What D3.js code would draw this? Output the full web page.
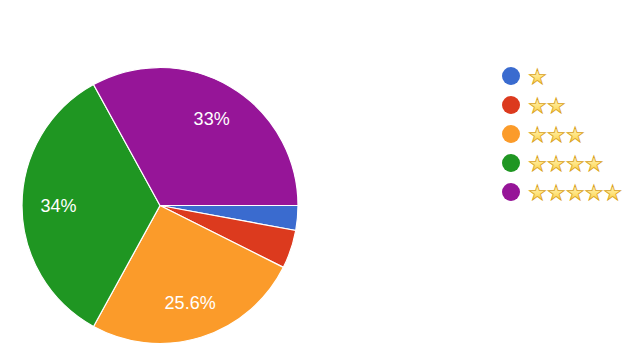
<!DOCTYPE html>
<html>
<head>
<meta charset="utf-8">
<script src="https://cdn.jsdelivr.net/npm/d3@7"></script>
<style>
  body { margin: 0; background: #fff; }
  svg { display: block; }
</style>
</head>
<body>
<div id="chart"></div>
<script>
// ratings and their share (percent)
var ratings = ["★", "★★", "★★★", "★★★★", "★★★★★"];
var shares = [2.9, 4.5, 25.6, 34, 33];
var labels = ["", "", "25.6%", "34%", "33%"];
var colors = ["#3a6bcf", "#dc3a1e", "#fb9b2a", "#1f9622", "#961598"];

var width = 640, height = 356;
var cx = 160, cy = 205.5, radius = 138;

var svg = d3.select("#chart").append("svg")
    .attr("width", width)
    .attr("height", height);

// gold gradient for the stars
var grad = svg.append("defs").append("linearGradient")
    .attr("id", "gold")
    .attr("x1", 0).attr("y1", 0).attr("x2", 0).attr("y2", 1);
grad.append("stop").attr("offset", "0%").attr("stop-color", "#fffbe0");
grad.append("stop").attr("offset", "55%").attr("stop-color", "#ffe37a");
grad.append("stop").attr("offset", "100%").attr("stop-color", "#f2b51c");

var data = ratings.map(function(r, i) {
    return { rating: r, share: shares[i], label: labels[i], color: colors[i] };
});

// pie starts at 3 o'clock, goes clockwise
var pie = d3.pie()
    .sort(null)
    .value(d => d.share)
    .startAngle(Math.PI / 2)
    .endAngle(Math.PI / 2 + 2 * Math.PI);

var arc = d3.arc().innerRadius(0).outerRadius(radius);
var labelArc = d3.arc().innerRadius(radius * 0.735).outerRadius(radius * 0.735);

var g = svg.append("g")
    .attr("transform", "translate(" + cx + "," + cy + ")");

var slices = g.selectAll(".slice")
    .data(pie(data))
    .enter().append("g")
    .attr("class", "slice");

slices.append("path")
    .attr("d", arc)
    .attr("fill", d => d.data.color)
    .attr("stroke", "#fff")
    .attr("stroke-width", 1.2);

slices.append("text")
    .attr("transform", d => "translate(" + labelArc.centroid(d) + ")")
    .attr("dy", "0.36em")
    .attr("text-anchor", "middle")
    .attr("fill", "#fff")
    .attr("font-family", "Arial, 'Liberation Sans', sans-serif")
    .attr("font-size", 18)
    .text(d => d.data.label);

// legend
var legend = svg.append("g")
    .attr("transform", "translate(511,76)");

var rows = legend.selectAll(".row")
    .data(data)
    .enter().append("g")
    .attr("class", "row")
    .attr("transform", (d, i) => "translate(0," + (i * 29) + ")");

rows.append("circle")
    .attr("r", 9)
    .attr("fill", d => d.color);

rows.append("text")
    .attr("x", 17)
    .attr("dy", "0.36em")
    .attr("font-family", "'DejaVu Sans', sans-serif")
    .attr("font-size", 21)
    .attr("fill", "url(#gold)")
    .attr("stroke", "#d9a21b")
    .attr("stroke-width", 0.8)
    .text(d => d.rating);
</script>
</body>
</html>
